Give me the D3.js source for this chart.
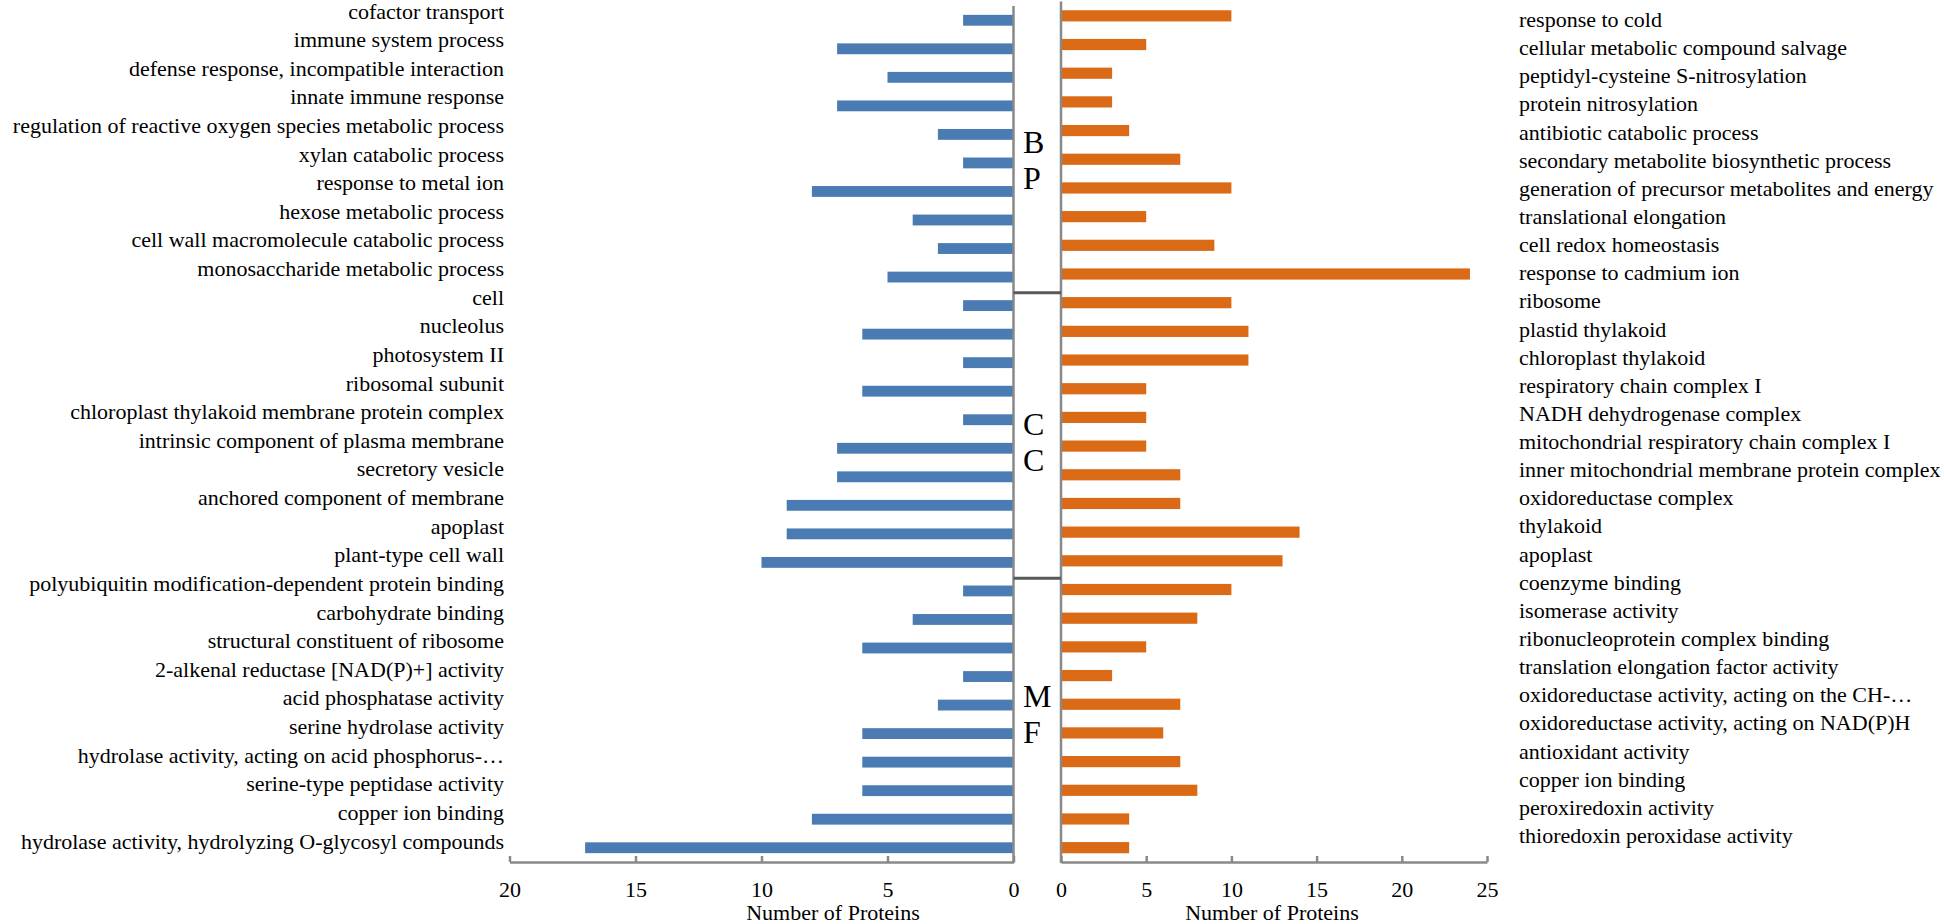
<!DOCTYPE html>
<html><head><meta charset="utf-8">
<script src="https://cdn.jsdelivr.net/npm/d3@7"></script>
<style>body{margin:0;background:#fff}svg{display:block}text{font-family:"Liberation Serif","Times New Roman",serif;fill:#000}</style>
</head><body><svg id="c" width="1944" height="924"></svg>
<script>
const leftCategories = ["cofactor transport","immune system process","defense response, incompatible interaction","innate immune response","regulation of reactive oxygen species metabolic process","xylan catabolic process","response to metal ion","hexose metabolic process","cell wall macromolecule catabolic process","monosaccharide metabolic process","cell","nucleolus","photosystem II","ribosomal subunit","chloroplast thylakoid membrane protein complex","intrinsic component of plasma membrane","secretory vesicle","anchored component of membrane","apoplast","plant-type cell wall","polyubiquitin modification-dependent protein binding","carbohydrate binding","structural constituent of ribosome","2-alkenal reductase [NAD(P)+] activity","acid phosphatase activity","serine hydrolase activity","hydrolase activity, acting on acid phosphorus-…","serine-type peptidase activity","copper ion binding","hydrolase activity, hydrolyzing O-glycosyl compounds"];
const leftValues = [2,7,5,7,3,2,8,4,3,5, 2,6,2,6,2,7,7,9,9,10, 2,4,6,2,3,6,6,6,8,17];
const rightCategories = ["response to cold","cellular metabolic compound salvage","peptidyl-cysteine S-nitrosylation","protein nitrosylation","antibiotic catabolic process","secondary metabolite biosynthetic process","generation of precursor metabolites and energy","translational elongation","cell redox homeostasis","response to cadmium ion","ribosome","plastid thylakoid","chloroplast thylakoid","respiratory chain complex I","NADH dehydrogenase complex","mitochondrial respiratory chain complex I","inner mitochondrial membrane protein complex","oxidoreductase complex","thylakoid","apoplast","coenzyme binding","isomerase activity","ribonucleoprotein complex binding","translation elongation factor activity","oxidoreductase activity, acting on the CH-…","oxidoreductase activity, acting on NAD(P)H","antioxidant activity","copper ion binding","peroxiredoxin activity","thioredoxin peroxidase activity"];
const rightValues = [10,5,3,3,4,7,10,5,9,24, 10,11,11,5,5,5,7,7,14,13, 10,8,5,3,7,6,7,8,4,4];
const groups = [["B","P"],["C","C"],["M","F"]];
const groupSize = 10;
const leftTicks = [20,15,10,5,0];
const rightTicks = [0,5,10,15,20,25];
const axisTitle = "Number of Proteins";

const svg = d3.select("#c");
const blue = "#4A7BB3", orange = "#DB6A16", axisCol = "#898989";
const base = 862;

const xL = d3.scaleLinear().domain([0,20]).range([1013.5,509.5]);
const xR = d3.scaleLinear().domain([0,25]).range([1061,1487]);
const idx = d3.range(30);
const yL = d3.scaleBand().domain(idx).range([6,base]).paddingInner(0.62).paddingOuter(0.31);
const yR = d3.scaleBand().domain(idx).range([1.5,base]).paddingInner(0.61).paddingOuter(0.305);
const yLabL = d3.scaleLinear().domain([0,29]).range([18.5,848.5]);
const yLabR = d3.scaleLinear().domain([0,29]).range([27,843]);

// bars
svg.append("g").selectAll("rect").data(leftValues).join("rect")
  .attr("x",d=>xL(d)).attr("width",d=>xL(0)-xL(d))
  .attr("y",(d,i)=>yL(i)).attr("height",yL.bandwidth()).attr("fill",blue);
svg.append("g").selectAll("rect").data(rightValues).join("rect")
  .attr("x",xR(0)).attr("width",d=>xR(d)-xR(0))
  .attr("y",(d,i)=>yR(i)).attr("height",yR.bandwidth()).attr("fill",orange);

// category labels
svg.append("g").selectAll("text").data(leftCategories).join("text")
  .attr("x",504).attr("y",(d,i)=>yLabL(i)).attr("text-anchor","end")
  .style("font-size","22px").text(d=>d);
svg.append("g").selectAll("text").data(rightCategories).join("text")
  .attr("x",1519).attr("y",(d,i)=>yLabR(i)).attr("text-anchor","start")
  .style("font-size","22px").text(d=>d);

// axes
function bottomAxis(scale, ticks){
  const g = svg.append("g").attr("transform",`translate(0,${base})`);
  const ax = d3.axisBottom(scale).tickValues(ticks).tickSize(-6).tickPadding(14).tickSizeOuter(0);
  g.call(ax);
  g.select(".domain").attr("stroke",axisCol).attr("stroke-width",2.5);
  g.selectAll(".tick line").attr("stroke",axisCol).attr("stroke-width",2.5);
  g.selectAll(".tick text").style("font-size","22px").style("font-family",'"Liberation Serif",serif').attr("fill","#000");
  return g;
}
bottomAxis(xL,leftTicks);
bottomAxis(xR,rightTicks);
svg.selectAll(".tick text").attr("dy","0").attr("y",35);

// vertical zero lines
svg.append("line").attr("x1",xL(0)).attr("x2",xL(0)).attr("y1",6).attr("y2",base+1).attr("stroke",axisCol).attr("stroke-width",2.5);
svg.append("line").attr("x1",xR(0)).attr("x2",xR(0)).attr("y1",1.5).attr("y2",base+1).attr("stroke",axisCol).attr("stroke-width",2.5);

// group dividers
[1,2].forEach(k=>{
  const y = 6 + yL.step()*groupSize*k + 1.5;
  svg.append("line").attr("x1",xL(0)).attr("x2",xR(0)).attr("y1",y).attr("y2",y).attr("stroke","#595959").attr("stroke-width",3);
});

// group letters
const groupBaselines = [153,435,707];
groups.forEach((g,k)=>{
  g.forEach((ch,j)=>{
    svg.append("text").attr("x",1023).attr("y",groupBaselines[k]+j*36)
      .style("font-size","32px").text(ch);
  });
});

// axis titles
svg.append("text").attr("x",833).attr("y",920).attr("text-anchor","middle").style("font-size","22px").text(axisTitle);
svg.append("text").attr("x",1272).attr("y",920).attr("text-anchor","middle").style("font-size","22px").text(axisTitle);
</script></body></html>
